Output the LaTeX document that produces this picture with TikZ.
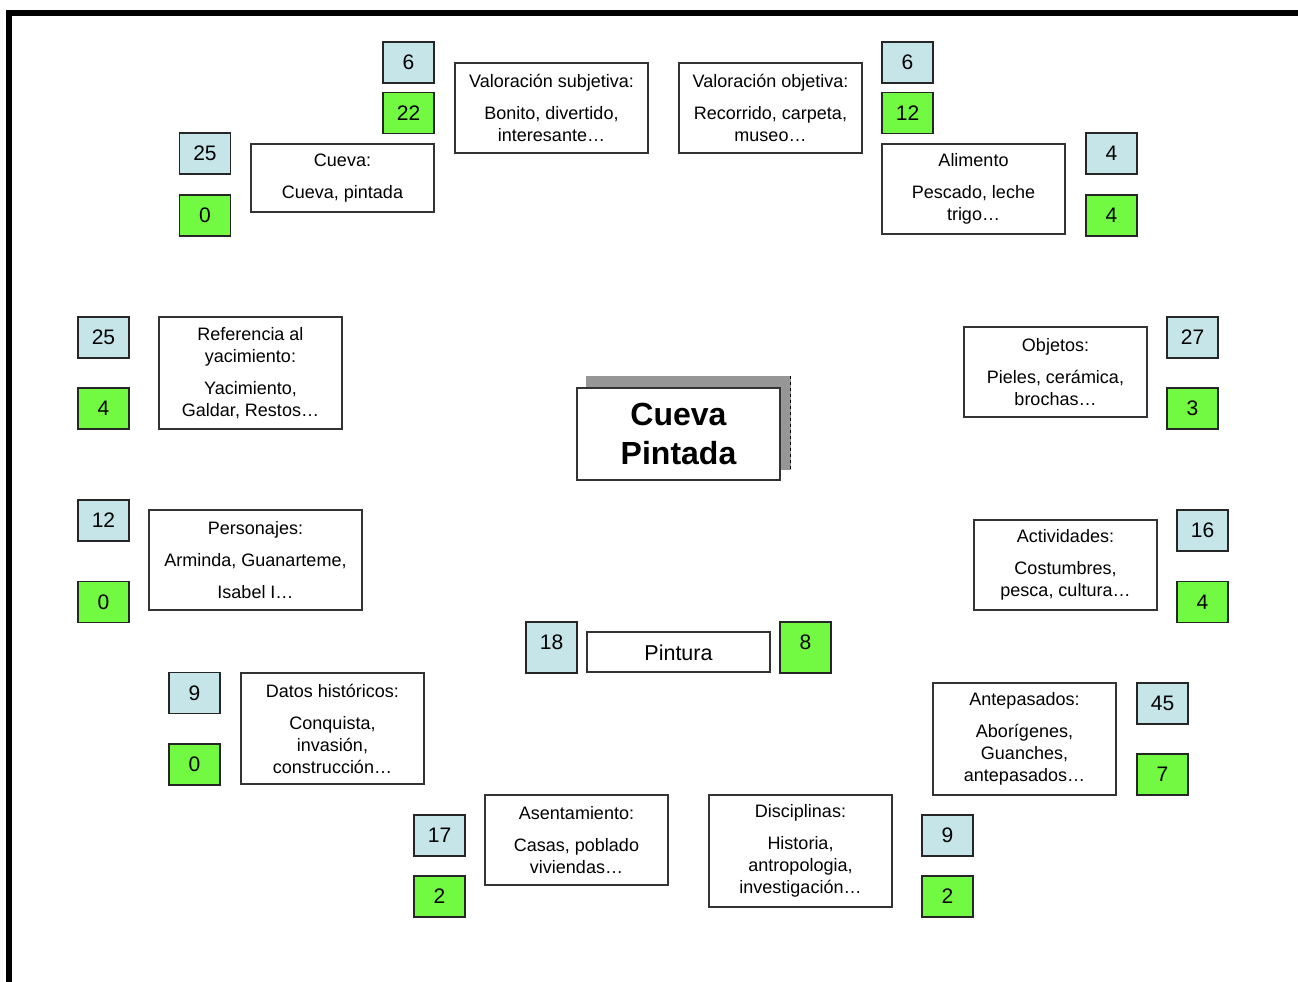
\documentclass[tikz,border=0pt]{standalone}
\usepackage{fontspec}
\setmainfont{Liberation Sans}
\usetikzlibrary{backgrounds}
\definecolor{azulito}{HTML}{C5E5E8}
\definecolor{verdecito}{HTML}{72FA42}
\definecolor{sombra}{HTML}{969696}
\begin{document}
\begin{tikzpicture}[x=1pt,y=-1pt,
  caja/.style={draw=black!80,line width=1.2pt,fill=white,inner sep=0pt,
    minimum width=183pt,align=center,font=\fontsize{18}{22}\selectfont,
    execute at begin node={\rule{0pt}{18pt}}},
  cuenta/.style={draw=black!85,line width=1.5pt,fill=azulito,inner sep=0pt,
    minimum width=51pt,minimum height=41pt,font=\fontsize{21}{25}\selectfont},
  acierto/.style={cuenta,fill=verdecito}]
\useasboundingbox (0,0) rectangle (1298,982);
% marco
\draw[line width=6pt] (9,982) -- (9,13) -- (1298,13);
% centro
\node[caja,minimum width=203pt,minimum height=92pt,
  font=\fontsize{32}{39}\selectfont\bfseries,
  execute at begin node={\rule{0pt}{28pt}}] (central) at (678.5,434) {Cueva\\Pintada};
\begin{scope}[on background layer]
\fill[sombra] ([shift={(10,-11)}]central.south west) rectangle ([shift={(10,-11)}]central.north east);
\draw[dashed,line width=0.7pt] ([shift={(10,-11)}]central.north east) -- ([shift={(10,-11)}]central.south east);
\end{scope}
% categorias
\node[caja,minimum width=193pt,minimum height=90pt] (subjetiva) at (551.5,108) {Valoración subjetiva:\\[10pt]Bonito, divertido,\\interesante…};
\node[caja,minimum height=90pt] (objetiva) at (770.5,108) {Valoración objetiva:\\[10pt]Recorrido, carpeta,\\museo…};
\node[caja,minimum height=68pt] (cueva) at (342.5,178) {Cueva:\\[10pt]Cueva, pintada};
\node[caja,minimum height=90pt] (alimento) at (973.5,189) {Alimento\\[10pt]Pescado, leche\\trigo…};
\node[caja,minimum height=112pt] (referencia) at (250.5,373) {Referencia al\\yacimiento:\\[10pt]Yacimiento,\\Galdar, Restos…};
\node[caja,minimum height=90pt] (objetos) at (1055.5,372) {Objetos:\\[10pt]Pieles, cerámica,\\brochas…};
\node[caja,minimum width=213pt,minimum height=100pt] (personajes) at (255.5,560) {Personajes:\\[10pt]Arminda, Guanarteme,\\[10pt]Isabel I…};
\node[caja,minimum height=90pt] (actividades) at (1065.5,565) {Actividades:\\[10pt]Costumbres,\\pesca, cultura…};
\node[caja,minimum height=40pt,font=\fontsize{21.5}{25}\selectfont] (pintura) at (678.5,652) {Pintura};
\node[caja,minimum height=111pt] (datos) at (332.5,728.5) {Datos históricos:\\[10pt]Conquista,\\invasión,\\construcción…};
\node[caja,minimum height=112pt] (antepasados) at (1024.5,739) {Antepasados:\\[10pt]Aborígenes,\\Guanches,\\antepasados…};
\node[caja,minimum height=90pt] (asentamiento) at (576.5,840) {Asentamiento:\\[10pt]Casas, poblado\\viviendas…};
\node[caja,minimum height=112pt] (disciplinas) at (800.5,851) {Disciplinas:\\[10pt]Historia,\\antropologia,\\investigación…};
% cuentas
\foreach \nombre/\x/\ya/\yv/\na/\nv in {subjetiva/408.5/62.5/113/6/22,
    cueva/205/153.5/215.5/25/0, objetiva/907.5/62.5/113/6/12,
    alimento/1111.5/153.5/215.5/4/4, referencia/103.5/337.5/408.5/25/4,
    objetos/1192.5/337.5/408.5/27/3, personajes/103.5/520.5/602/12/0,
    actividades/1202.5/530.5/602/16/4, datos/194.5/693/764.5/9/0,
    antepasados/1162.5/703.5/774.5/45/7, asentamiento/439.5/835.5/896.5/17/2,
    disciplinas/947.5/835.5/896.5/9/2}
  {\node[cuenta] (n\nombre) at (\x,\ya) {\na};
   \node[acierto] (v\nombre) at (\x,\yv) {\nv};}
\node[cuenta,minimum height=51pt,text depth=10pt] (npintura) at (551.5,647.5) {18};
\node[acierto,minimum height=51pt,text depth=10pt] (vpintura) at (805.5,647.5) {8};
\end{tikzpicture}
\end{document}
